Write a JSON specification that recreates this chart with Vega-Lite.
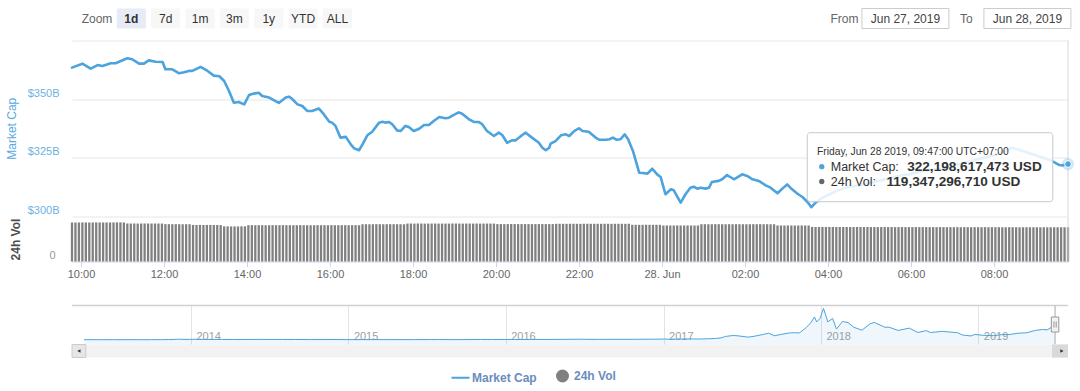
{
"$schema": "https://vega.github.io/schema/vega-lite/v6.json",
"padding": {"left": 5, "top": 7.5, "right": 5, "bottom": 5},
"background": "white",
"config": {"font": "Liberation Sans", "view": {"stroke": null}},
"spacing": 0,
"bounds": "flush",
"resolve": {"scale": {"x": "independent", "y": "independent", "color": "shared"}},
"datasets": {
"btnL": [{"b":"Zoom"},{"b":"1d"},{"b":"7d"},{"b":"1m"},{"b":"3m"},{"b":"1y"},{"b":"YTD"},{"b":"ALL"}],
"btnR": [{"r":"From"},{"r":"Jun 27, 2019"},{"r":"To"},{"r":"Jun 28, 2019"}],
"main": [
{"t":"2019-06-27T09:47Z","v":363.4},{"t":"2019-06-27T10:02Z","v":365.1},{"t":"2019-06-27T10:14Z","v":363.0},{"t":"2019-06-27T10:24Z","v":364.5},{"t":"2019-06-27T10:31Z","v":364.1},{"t":"2019-06-27T10:43Z","v":365.3},{"t":"2019-06-27T10:50Z","v":365.3},{"t":"2019-06-27T11:07Z","v":367.4},{"t":"2019-06-27T11:14Z","v":367.0},{"t":"2019-06-27T11:24Z","v":365.1},{"t":"2019-06-27T11:31Z","v":365.1},{"t":"2019-06-27T11:38Z","v":366.5},{"t":"2019-06-27T11:48Z","v":365.9},{"t":"2019-06-27T11:58Z","v":365.8},{"t":"2019-06-27T12:02Z","v":362.7},{"t":"2019-06-27T12:12Z","v":362.7},{"t":"2019-06-27T12:22Z","v":361.0},{"t":"2019-06-27T12:29Z","v":361.4},{"t":"2019-06-27T12:36Z","v":362.0},{"t":"2019-06-27T12:41Z","v":362.0},{"t":"2019-06-27T12:53Z","v":363.7},{"t":"2019-06-27T13:03Z","v":362.0},{"t":"2019-06-27T13:12Z","v":360.0},{"t":"2019-06-27T13:20Z","v":359.7},{"t":"2019-06-27T13:27Z","v":357.7},{"t":"2019-06-27T13:34Z","v":353.4},{"t":"2019-06-27T13:41Z","v":348.4},{"t":"2019-06-27T13:48Z","v":348.7},{"t":"2019-06-27T13:56Z","v":347.7},{"t":"2019-06-27T14:03Z","v":351.7},{"t":"2019-06-27T14:10Z","v":352.3},{"t":"2019-06-27T14:17Z","v":352.7},{"t":"2019-06-27T14:22Z","v":351.3},{"t":"2019-06-27T14:32Z","v":350.6},{"t":"2019-06-27T14:46Z","v":348.3},{"t":"2019-06-27T14:56Z","v":350.6},{"t":"2019-06-27T15:01Z","v":351.0},{"t":"2019-06-27T15:05Z","v":350.1},{"t":"2019-06-27T15:13Z","v":347.7},{"t":"2019-06-27T15:20Z","v":347.0},{"t":"2019-06-27T15:27Z","v":344.9},{"t":"2019-06-27T15:34Z","v":344.9},{"t":"2019-06-27T15:44Z","v":345.9},{"t":"2019-06-27T15:51Z","v":343.5},{"t":"2019-06-27T15:59Z","v":340.3},{"t":"2019-06-27T16:03Z","v":339.9},{"t":"2019-06-27T16:08Z","v":338.5},{"t":"2019-06-27T16:15Z","v":333.5},{"t":"2019-06-27T16:23Z","v":333.8},{"t":"2019-06-27T16:30Z","v":330.6},{"t":"2019-06-27T16:35Z","v":328.9},{"t":"2019-06-27T16:42Z","v":328.1},{"t":"2019-06-27T16:47Z","v":330.6},{"t":"2019-06-27T16:54Z","v":334.5},{"t":"2019-06-27T17:01Z","v":336.0},{"t":"2019-06-27T17:11Z","v":339.9},{"t":"2019-06-27T17:16Z","v":340.3},{"t":"2019-06-27T17:20Z","v":339.9},{"t":"2019-06-27T17:25Z","v":340.2},{"t":"2019-06-27T17:30Z","v":339.2},{"t":"2019-06-27T17:37Z","v":336.6},{"t":"2019-06-27T17:42Z","v":336.3},{"t":"2019-06-27T17:49Z","v":338.5},{"t":"2019-06-27T17:54Z","v":338.0},{"t":"2019-06-27T18:01Z","v":336.3},{"t":"2019-06-27T18:09Z","v":337.3},{"t":"2019-06-27T18:16Z","v":338.9},{"t":"2019-06-27T18:23Z","v":338.9},{"t":"2019-06-27T18:30Z","v":340.6},{"t":"2019-06-27T18:38Z","v":342.3},{"t":"2019-06-27T18:47Z","v":341.8},{"t":"2019-06-27T18:52Z","v":342.0},{"t":"2019-06-27T18:59Z","v":343.2},{"t":"2019-06-27T19:06Z","v":344.3},{"t":"2019-06-27T19:11Z","v":343.7},{"t":"2019-06-27T19:21Z","v":341.3},{"t":"2019-06-27T19:28Z","v":340.2},{"t":"2019-06-27T19:35Z","v":340.2},{"t":"2019-06-27T19:40Z","v":339.2},{"t":"2019-06-27T19:47Z","v":336.3},{"t":"2019-06-27T19:57Z","v":334.2},{"t":"2019-06-27T20:04Z","v":335.6},{"t":"2019-06-27T20:09Z","v":334.6},{"t":"2019-06-27T20:16Z","v":331.3},{"t":"2019-06-27T20:23Z","v":332.3},{"t":"2019-06-27T20:28Z","v":332.3},{"t":"2019-06-27T20:38Z","v":334.6},{"t":"2019-06-27T20:43Z","v":335.6},{"t":"2019-06-27T20:52Z","v":333.5},{"t":"2019-06-27T21:02Z","v":331.3},{"t":"2019-06-27T21:07Z","v":329.2},{"t":"2019-06-27T21:12Z","v":328.1},{"t":"2019-06-27T21:17Z","v":329.2},{"t":"2019-06-27T21:19Z","v":330.9},{"t":"2019-06-27T21:26Z","v":332.0},{"t":"2019-06-27T21:34Z","v":334.5},{"t":"2019-06-27T21:41Z","v":334.9},{"t":"2019-06-27T21:46Z","v":334.2},{"t":"2019-06-27T21:53Z","v":336.3},{"t":"2019-06-27T22:00Z","v":337.5},{"t":"2019-06-27T22:05Z","v":336.3},{"t":"2019-06-27T22:14Z","v":336.0},{"t":"2019-06-27T22:24Z","v":333.5},{"t":"2019-06-27T22:29Z","v":332.6},{"t":"2019-06-27T22:39Z","v":332.6},{"t":"2019-06-27T22:44Z","v":332.8},{"t":"2019-06-27T22:49Z","v":333.5},{"t":"2019-06-27T22:54Z","v":332.6},{"t":"2019-06-27T23:00Z","v":332.8},{"t":"2019-06-27T23:06Z","v":334.9},{"t":"2019-06-27T23:11Z","v":332.8},{"t":"2019-06-27T23:18Z","v":327.8},{"t":"2019-06-27T23:27Z","v":318.5},{"t":"2019-06-27T23:32Z","v":318.4},{"t":"2019-06-27T23:39Z","v":318.1},{"t":"2019-06-27T23:46Z","v":320.2},{"t":"2019-06-27T23:53Z","v":317.8},{"t":"2019-06-27T23:58Z","v":316.7},
{"t":"2019-06-28T00:05Z","v":309.3},{"t":"2019-06-28T00:13Z","v":311.4},{"t":"2019-06-28T00:17Z","v":311.0},{"t":"2019-06-28T00:27Z","v":305.7},{"t":"2019-06-28T00:34Z","v":309.3},{"t":"2019-06-28T00:41Z","v":312.1},{"t":"2019-06-28T00:46Z","v":312.5},{"t":"2019-06-28T00:51Z","v":311.7},{"t":"2019-06-28T00:56Z","v":312.1},{"t":"2019-06-28T01:03Z","v":311.7},{"t":"2019-06-28T01:08Z","v":312.1},{"t":"2019-06-28T01:12Z","v":314.5},{"t":"2019-06-28T01:22Z","v":315.0},{"t":"2019-06-28T01:27Z","v":315.7},{"t":"2019-06-28T01:34Z","v":317.5},{"t":"2019-06-28T01:44Z","v":315.7},{"t":"2019-06-28T01:56Z","v":317.8},{"t":"2019-06-28T02:03Z","v":317.1},{"t":"2019-06-28T02:11Z","v":315.7},{"t":"2019-06-28T02:20Z","v":315.0},{"t":"2019-06-28T02:30Z","v":313.1},{"t":"2019-06-28T02:37Z","v":312.1},{"t":"2019-06-28T02:47Z","v":309.7},{"t":"2019-06-28T02:54Z","v":311.7},{"t":"2019-06-28T03:01Z","v":313.5},{"t":"2019-06-28T03:08Z","v":311.4},{"t":"2019-06-28T03:16Z","v":309.5},{"t":"2019-06-28T03:23Z","v":308.1},{"t":"2019-06-28T03:30Z","v":306.1},{"t":"2019-06-28T03:36Z","v":303.8},{"t":"2019-06-28T03:42Z","v":305.7},{"t":"2019-06-28T03:52Z","v":307.8},{"t":"2019-06-28T04:00Z","v":309.0},{"t":"2019-06-28T04:15Z","v":311.0},{"t":"2019-06-28T04:30Z","v":312.5},{"t":"2019-06-28T04:45Z","v":313.0},{"t":"2019-06-28T05:00Z","v":314.0},{"t":"2019-06-28T05:20Z","v":315.5},{"t":"2019-06-28T05:40Z","v":317.0},{"t":"2019-06-28T06:00Z","v":318.0},{"t":"2019-06-28T06:20Z","v":319.5},{"t":"2019-06-28T06:40Z","v":320.0},{"t":"2019-06-28T07:00Z","v":321.5},{"t":"2019-06-28T07:20Z","v":323.0},{"t":"2019-06-28T07:40Z","v":324.5},{"t":"2019-06-28T08:00Z","v":326.0},{"t":"2019-06-28T08:15Z","v":327.5},{"t":"2019-06-28T08:26Z","v":329.2},{"t":"2019-06-28T08:45Z","v":327.5},{"t":"2019-06-28T09:00Z","v":326.0},{"t":"2019-06-28T09:15Z","v":324.5},{"t":"2019-06-28T09:24Z","v":323.5},{"t":"2019-06-28T09:34Z","v":321.8},{"t":"2019-06-28T09:40Z","v":321.6},{"t":"2019-06-28T09:45Z","v":322.4},{"t":"2019-06-28T09:47Z","v":322.2}
],
"vol": [
{"t":"2019-06-27T09:47Z","v":136.2},{"t":"2019-06-27T09:52Z","v":136.0},{"t":"2019-06-27T09:57Z","v":136.1},
{"t":"2019-06-27T10:02Z","v":136.3},{"t":"2019-06-27T10:07Z","v":136.2},{"t":"2019-06-27T10:12Z","v":136.0},{"t":"2019-06-27T10:17Z","v":136.1},{"t":"2019-06-27T10:22Z","v":136.2},{"t":"2019-06-27T10:27Z","v":136.3},{"t":"2019-06-27T10:32Z","v":136.4},{"t":"2019-06-27T10:37Z","v":136.2},{"t":"2019-06-27T10:42Z","v":136.1},{"t":"2019-06-27T10:47Z","v":136.3},{"t":"2019-06-27T10:52Z","v":136.5},{"t":"2019-06-27T10:57Z","v":136.4},
{"t":"2019-06-27T11:02Z","v":136.2},{"t":"2019-06-27T11:07Z","v":132.6},{"t":"2019-06-27T11:12Z","v":132.5},{"t":"2019-06-27T11:17Z","v":132.6},{"t":"2019-06-27T11:22Z","v":132.4},{"t":"2019-06-27T11:27Z","v":132.5},{"t":"2019-06-27T11:32Z","v":132.6},{"t":"2019-06-27T11:37Z","v":132.5},{"t":"2019-06-27T11:42Z","v":132.4},{"t":"2019-06-27T11:47Z","v":132.6},{"t":"2019-06-27T11:52Z","v":132.5},{"t":"2019-06-27T11:57Z","v":132.4},
{"t":"2019-06-27T12:02Z","v":130.4},{"t":"2019-06-27T12:07Z","v":130.2},{"t":"2019-06-27T12:12Z","v":130.1},{"t":"2019-06-27T12:17Z","v":130.3},{"t":"2019-06-27T12:22Z","v":130.0},{"t":"2019-06-27T12:27Z","v":129.9},{"t":"2019-06-27T12:32Z","v":130.1},{"t":"2019-06-27T12:37Z","v":130.0},{"t":"2019-06-27T12:42Z","v":127.6},{"t":"2019-06-27T12:47Z","v":127.5},{"t":"2019-06-27T12:52Z","v":127.7},{"t":"2019-06-27T12:57Z","v":127.4},
{"t":"2019-06-27T13:02Z","v":127.5},{"t":"2019-06-27T13:07Z","v":127.6},{"t":"2019-06-27T13:12Z","v":127.3},{"t":"2019-06-27T13:17Z","v":127.4},{"t":"2019-06-27T13:22Z","v":127.2},{"t":"2019-06-27T13:27Z","v":122.8},{"t":"2019-06-27T13:32Z","v":122.6},{"t":"2019-06-27T13:37Z","v":122.4},{"t":"2019-06-27T13:42Z","v":122.5},{"t":"2019-06-27T13:47Z","v":122.3},{"t":"2019-06-27T13:52Z","v":122.6},{"t":"2019-06-27T13:57Z","v":122.7},
{"t":"2019-06-27T14:02Z","v":126.6},{"t":"2019-06-27T14:07Z","v":126.8},{"t":"2019-06-27T14:12Z","v":126.7},{"t":"2019-06-27T14:17Z","v":126.9},{"t":"2019-06-27T14:22Z","v":126.6},{"t":"2019-06-27T14:27Z","v":126.5},{"t":"2019-06-27T14:32Z","v":126.7},{"t":"2019-06-27T14:37Z","v":126.8},{"t":"2019-06-27T14:42Z","v":126.6},{"t":"2019-06-27T14:47Z","v":126.7},{"t":"2019-06-27T14:52Z","v":126.9},{"t":"2019-06-27T14:57Z","v":126.8},
{"t":"2019-06-27T15:02Z","v":126.7},{"t":"2019-06-27T15:07Z","v":126.6},{"t":"2019-06-27T15:12Z","v":126.8},{"t":"2019-06-27T15:17Z","v":126.9},{"t":"2019-06-27T15:22Z","v":126.7},{"t":"2019-06-27T15:27Z","v":126.6},{"t":"2019-06-27T15:32Z","v":126.5},{"t":"2019-06-27T15:37Z","v":126.7},{"t":"2019-06-27T15:42Z","v":126.8},{"t":"2019-06-27T15:47Z","v":126.6},{"t":"2019-06-27T15:52Z","v":126.7},{"t":"2019-06-27T15:57Z","v":126.8},
{"t":"2019-06-27T16:02Z","v":126.9},{"t":"2019-06-27T16:07Z","v":126.7},{"t":"2019-06-27T16:12Z","v":126.6},{"t":"2019-06-27T16:17Z","v":126.8},{"t":"2019-06-27T16:22Z","v":126.7},{"t":"2019-06-27T16:27Z","v":126.6},{"t":"2019-06-27T16:32Z","v":126.8},{"t":"2019-06-27T16:37Z","v":126.9},{"t":"2019-06-27T16:42Z","v":126.7},{"t":"2019-06-27T16:47Z","v":130.0},{"t":"2019-06-27T16:52Z","v":130.1},{"t":"2019-06-27T16:57Z","v":129.9},
{"t":"2019-06-27T17:02Z","v":130.0},{"t":"2019-06-27T17:07Z","v":130.2},{"t":"2019-06-27T17:12Z","v":130.1},{"t":"2019-06-27T17:17Z","v":129.9},{"t":"2019-06-27T17:22Z","v":130.0},{"t":"2019-06-27T17:27Z","v":130.1},{"t":"2019-06-27T17:32Z","v":130.2},{"t":"2019-06-27T17:37Z","v":130.0},{"t":"2019-06-27T17:42Z","v":130.1},{"t":"2019-06-27T17:47Z","v":129.9},{"t":"2019-06-27T17:52Z","v":132.3},{"t":"2019-06-27T17:57Z","v":132.4},
{"t":"2019-06-27T18:02Z","v":132.3},{"t":"2019-06-27T18:07Z","v":132.5},{"t":"2019-06-27T18:12Z","v":132.4},{"t":"2019-06-27T18:17Z","v":132.2},{"t":"2019-06-27T18:22Z","v":132.3},{"t":"2019-06-27T18:27Z","v":132.4},{"t":"2019-06-27T18:32Z","v":132.5},{"t":"2019-06-27T18:37Z","v":132.3},{"t":"2019-06-27T18:42Z","v":132.2},{"t":"2019-06-27T18:47Z","v":132.4},{"t":"2019-06-27T18:52Z","v":132.3},{"t":"2019-06-27T18:57Z","v":132.5},
{"t":"2019-06-27T19:02Z","v":132.4},{"t":"2019-06-27T19:07Z","v":132.3},{"t":"2019-06-27T19:12Z","v":132.2},{"t":"2019-06-27T19:17Z","v":132.4},{"t":"2019-06-27T19:22Z","v":132.5},{"t":"2019-06-27T19:27Z","v":132.3},{"t":"2019-06-27T19:32Z","v":132.4},{"t":"2019-06-27T19:37Z","v":132.2},{"t":"2019-06-27T19:42Z","v":132.3},{"t":"2019-06-27T19:47Z","v":132.4},{"t":"2019-06-27T19:52Z","v":132.3},{"t":"2019-06-27T19:57Z","v":132.2},
{"t":"2019-06-27T20:02Z","v":130.5},{"t":"2019-06-27T20:07Z","v":130.6},{"t":"2019-06-27T20:12Z","v":130.4},{"t":"2019-06-27T20:17Z","v":130.5},{"t":"2019-06-27T20:22Z","v":130.7},{"t":"2019-06-27T20:27Z","v":130.6},{"t":"2019-06-27T20:32Z","v":130.4},{"t":"2019-06-27T20:37Z","v":130.5},{"t":"2019-06-27T20:42Z","v":130.6},{"t":"2019-06-27T20:47Z","v":130.5},{"t":"2019-06-27T20:52Z","v":130.4},{"t":"2019-06-27T20:57Z","v":130.6},
{"t":"2019-06-27T21:02Z","v":130.5},{"t":"2019-06-27T21:07Z","v":130.6},{"t":"2019-06-27T21:12Z","v":130.4},{"t":"2019-06-27T21:17Z","v":130.5},{"t":"2019-06-27T21:22Z","v":130.6},{"t":"2019-06-27T21:27Z","v":131.5},{"t":"2019-06-27T21:32Z","v":131.6},{"t":"2019-06-27T21:37Z","v":131.4},{"t":"2019-06-27T21:42Z","v":131.5},{"t":"2019-06-27T21:47Z","v":131.7},{"t":"2019-06-27T21:52Z","v":131.6},{"t":"2019-06-27T21:57Z","v":131.5},
{"t":"2019-06-27T22:02Z","v":131.4},{"t":"2019-06-27T22:07Z","v":131.5},{"t":"2019-06-27T22:12Z","v":131.6},{"t":"2019-06-27T22:17Z","v":131.5},{"t":"2019-06-27T22:22Z","v":131.4},{"t":"2019-06-27T22:27Z","v":131.6},{"t":"2019-06-27T22:32Z","v":131.5},{"t":"2019-06-27T22:37Z","v":131.7},{"t":"2019-06-27T22:42Z","v":131.5},{"t":"2019-06-27T22:47Z","v":131.4},{"t":"2019-06-27T22:52Z","v":131.6},{"t":"2019-06-27T22:57Z","v":131.5},
{"t":"2019-06-27T23:02Z","v":131.5},{"t":"2019-06-27T23:07Z","v":131.4},{"t":"2019-06-27T23:12Z","v":131.6},{"t":"2019-06-27T23:17Z","v":128.0},{"t":"2019-06-27T23:22Z","v":128.1},{"t":"2019-06-27T23:27Z","v":127.9},{"t":"2019-06-27T23:32Z","v":128.0},{"t":"2019-06-27T23:37Z","v":128.2},{"t":"2019-06-27T23:42Z","v":128.0},{"t":"2019-06-27T23:47Z","v":127.9},{"t":"2019-06-27T23:52Z","v":128.1},{"t":"2019-06-27T23:57Z","v":128.0},
{"t":"2019-06-28T00:02Z","v":125.6},{"t":"2019-06-28T00:07Z","v":125.7},{"t":"2019-06-28T00:12Z","v":125.5},{"t":"2019-06-28T00:17Z","v":125.6},{"t":"2019-06-28T00:22Z","v":125.8},{"t":"2019-06-28T00:27Z","v":125.6},{"t":"2019-06-28T00:32Z","v":125.5},{"t":"2019-06-28T00:37Z","v":125.7},{"t":"2019-06-28T00:42Z","v":125.6},{"t":"2019-06-28T00:47Z","v":125.5},{"t":"2019-06-28T00:52Z","v":125.6},{"t":"2019-06-28T00:57Z","v":130.0},
{"t":"2019-06-28T01:02Z","v":130.1},{"t":"2019-06-28T01:07Z","v":129.9},{"t":"2019-06-28T01:12Z","v":130.0},{"t":"2019-06-28T01:17Z","v":130.2},{"t":"2019-06-28T01:22Z","v":130.1},{"t":"2019-06-28T01:27Z","v":130.0},{"t":"2019-06-28T01:32Z","v":129.9},{"t":"2019-06-28T01:37Z","v":130.1},{"t":"2019-06-28T01:42Z","v":130.0},{"t":"2019-06-28T01:47Z","v":130.2},{"t":"2019-06-28T01:52Z","v":130.1},{"t":"2019-06-28T01:57Z","v":130.0},
{"t":"2019-06-28T02:02Z","v":129.9},{"t":"2019-06-28T02:07Z","v":130.0},{"t":"2019-06-28T02:12Z","v":130.1},{"t":"2019-06-28T02:17Z","v":130.0},{"t":"2019-06-28T02:22Z","v":130.2},{"t":"2019-06-28T02:27Z","v":130.1},{"t":"2019-06-28T02:32Z","v":130.0},{"t":"2019-06-28T02:37Z","v":129.9},{"t":"2019-06-28T02:42Z","v":130.0},{"t":"2019-06-28T02:47Z","v":125.6},{"t":"2019-06-28T02:52Z","v":125.7},{"t":"2019-06-28T02:57Z","v":125.5},
{"t":"2019-06-28T03:02Z","v":125.6},{"t":"2019-06-28T03:07Z","v":125.7},{"t":"2019-06-28T03:12Z","v":125.5},{"t":"2019-06-28T03:17Z","v":125.6},{"t":"2019-06-28T03:22Z","v":125.7},{"t":"2019-06-28T03:27Z","v":125.6},{"t":"2019-06-28T03:32Z","v":125.5},{"t":"2019-06-28T03:37Z","v":120.6},{"t":"2019-06-28T03:42Z","v":120.5},{"t":"2019-06-28T03:47Z","v":120.4},{"t":"2019-06-28T03:52Z","v":120.6},{"t":"2019-06-28T03:57Z","v":120.5},
{"t":"2019-06-28T04:02Z","v":120.4},{"t":"2019-06-28T04:07Z","v":120.5},{"t":"2019-06-28T04:12Z","v":120.3},{"t":"2019-06-28T04:17Z","v":120.4},{"t":"2019-06-28T04:22Z","v":120.5},{"t":"2019-06-28T04:27Z","v":120.3},{"t":"2019-06-28T04:32Z","v":120.4},{"t":"2019-06-28T04:37Z","v":120.2},{"t":"2019-06-28T04:42Z","v":120.3},{"t":"2019-06-28T04:47Z","v":120.4},{"t":"2019-06-28T04:52Z","v":120.2},{"t":"2019-06-28T04:57Z","v":120.3},
{"t":"2019-06-28T05:02Z","v":120.2},{"t":"2019-06-28T05:07Z","v":120.3},{"t":"2019-06-28T05:12Z","v":120.1},{"t":"2019-06-28T05:17Z","v":120.2},{"t":"2019-06-28T05:22Z","v":120.3},{"t":"2019-06-28T05:27Z","v":120.1},{"t":"2019-06-28T05:32Z","v":120.2},{"t":"2019-06-28T05:37Z","v":120.0},{"t":"2019-06-28T05:42Z","v":120.1},{"t":"2019-06-28T05:47Z","v":120.2},{"t":"2019-06-28T05:52Z","v":120.0},{"t":"2019-06-28T05:57Z","v":120.1},
{"t":"2019-06-28T06:02Z","v":120.0},{"t":"2019-06-28T06:07Z","v":120.1},{"t":"2019-06-28T06:12Z","v":119.9},{"t":"2019-06-28T06:17Z","v":120.0},{"t":"2019-06-28T06:22Z","v":120.1},{"t":"2019-06-28T06:27Z","v":119.9},{"t":"2019-06-28T06:32Z","v":120.0},{"t":"2019-06-28T06:37Z","v":119.8},{"t":"2019-06-28T06:42Z","v":119.9},{"t":"2019-06-28T06:47Z","v":120.0},{"t":"2019-06-28T06:52Z","v":119.8},{"t":"2019-06-28T06:57Z","v":119.9},
{"t":"2019-06-28T07:02Z","v":119.8},{"t":"2019-06-28T07:07Z","v":119.9},{"t":"2019-06-28T07:12Z","v":119.7},{"t":"2019-06-28T07:17Z","v":119.8},{"t":"2019-06-28T07:22Z","v":119.9},{"t":"2019-06-28T07:27Z","v":119.7},{"t":"2019-06-28T07:32Z","v":119.8},{"t":"2019-06-28T07:37Z","v":119.6},{"t":"2019-06-28T07:42Z","v":119.7},{"t":"2019-06-28T07:47Z","v":119.8},{"t":"2019-06-28T07:52Z","v":119.6},{"t":"2019-06-28T07:57Z","v":119.7},
{"t":"2019-06-28T08:02Z","v":119.6},{"t":"2019-06-28T08:07Z","v":119.7},{"t":"2019-06-28T08:12Z","v":119.5},{"t":"2019-06-28T08:17Z","v":119.6},{"t":"2019-06-28T08:22Z","v":119.7},{"t":"2019-06-28T08:27Z","v":119.5},{"t":"2019-06-28T08:32Z","v":119.6},{"t":"2019-06-28T08:37Z","v":119.4},{"t":"2019-06-28T08:42Z","v":119.5},{"t":"2019-06-28T08:47Z","v":119.6},{"t":"2019-06-28T08:52Z","v":119.4},{"t":"2019-06-28T08:57Z","v":119.5},
{"t":"2019-06-28T09:02Z","v":119.5},{"t":"2019-06-28T09:07Z","v":119.4},{"t":"2019-06-28T09:12Z","v":119.5},{"t":"2019-06-28T09:17Z","v":119.3},{"t":"2019-06-28T09:22Z","v":119.4},{"t":"2019-06-28T09:27Z","v":119.5},{"t":"2019-06-28T09:32Z","v":119.3},{"t":"2019-06-28T09:37Z","v":119.4},{"t":"2019-06-28T09:42Z","v":119.4},{"t":"2019-06-28T09:47Z","v":119.35}
],
"nav": [
{"t":"2013-04-28","v":1.6},{"t":"2013-06-01","v":1.4},{"t":"2013-07-05","v":0.9},{"t":"2013-08-01","v":1.3},{"t":"2013-09-01","v":1.6},{"t":"2013-10-01","v":1.7},{"t":"2013-10-25","v":2.6},{"t":"2013-11-10","v":4.5},{"t":"2013-11-20","v":8},{"t":"2013-12-04","v":15},{"t":"2013-12-18","v":7.5},{"t":"2013-12-28","v":10},
{"t":"2014-01-06","v":12},{"t":"2014-02-01","v":10},{"t":"2014-02-25","v":6.5},{"t":"2014-03-15","v":8},{"t":"2014-04-10","v":5.5},{"t":"2014-05-01","v":6.5},{"t":"2014-06-03","v":9},{"t":"2014-07-01","v":8},{"t":"2014-08-01","v":7.5},{"t":"2014-09-01","v":6.5},{"t":"2014-10-05","v":4.6},{"t":"2014-11-01","v":4.8},{"t":"2014-12-01","v":5.2},
{"t":"2015-01-14","v":2.8},{"t":"2015-02-01","v":3.3},{"t":"2015-03-01","v":3.8},{"t":"2015-04-01","v":3.5},{"t":"2015-05-01","v":3.4},{"t":"2015-06-01","v":3.4},{"t":"2015-07-10","v":4.4},{"t":"2015-08-01","v":4.3},{"t":"2015-09-01","v":3.8},{"t":"2015-10-01","v":3.9},{"t":"2015-11-04","v":7.3},{"t":"2015-12-01","v":6.3},
{"t":"2016-01-01","v":7.1},{"t":"2016-02-01","v":6.8},{"t":"2016-03-01","v":8.8},{"t":"2016-04-01","v":8.0},{"t":"2016-05-01","v":8.5},{"t":"2016-06-17","v":13.5},{"t":"2016-07-01","v":11.8},{"t":"2016-08-03","v":9.5},{"t":"2016-09-01","v":10.8},{"t":"2016-10-01","v":11.2},{"t":"2016-11-01","v":12.5},{"t":"2016-12-01","v":13.8},
{"t":"2017-01-04","v":18.5},{"t":"2017-01-12","v":14.5},{"t":"2017-02-01","v":16.5},{"t":"2017-03-03","v":22},{"t":"2017-03-25","v":19},{"t":"2017-04-15","v":25},{"t":"2017-05-01","v":33},{"t":"2017-05-15","v":50},{"t":"2017-05-25","v":88},{"t":"2017-06-12","v":112},{"t":"2017-06-25","v":100},{"t":"2017-07-16","v":68},{"t":"2017-08-01","v":95},{"t":"2017-08-20","v":140},{"t":"2017-09-02","v":172},{"t":"2017-09-15","v":105},{"t":"2017-10-01","v":140},{"t":"2017-10-20","v":180},{"t":"2017-11-01","v":185},{"t":"2017-11-12","v":180},{"t":"2017-11-28","v":320},{"t":"2017-12-08","v":440},{"t":"2017-12-17","v":600},{"t":"2017-12-22","v":470},{"t":"2017-12-30","v":560},
{"t":"2018-01-07","v":825},{"t":"2018-01-17","v":470},{"t":"2018-01-28","v":560},{"t":"2018-02-06","v":280},{"t":"2018-02-20","v":480},{"t":"2018-03-05","v":450},{"t":"2018-03-18","v":330},{"t":"2018-04-06","v":250},{"t":"2018-04-25","v":420},{"t":"2018-05-05","v":455},{"t":"2018-05-29","v":330},{"t":"2018-06-08","v":330},{"t":"2018-06-29","v":245},{"t":"2018-07-25","v":305},{"t":"2018-08-14","v":190},{"t":"2018-09-02","v":240},{"t":"2018-09-12","v":190},{"t":"2018-10-10","v":220},{"t":"2018-10-25","v":205},{"t":"2018-11-14","v":185},{"t":"2018-11-25","v":125},{"t":"2018-12-15","v":100},{"t":"2018-12-24","v":140},
{"t":"2019-01-10","v":118},{"t":"2019-02-07","v":107},{"t":"2019-02-24","v":135},{"t":"2019-03-15","v":138},{"t":"2019-04-03","v":172},{"t":"2019-04-23","v":183},{"t":"2019-05-13","v":245},{"t":"2019-05-30","v":270},{"t":"2019-06-10","v":260},{"t":"2019-06-26","v":375},{"t":"2019-06-28","v":322}
]
},
"vconcat": [
{
 "width": 996, "height": 20,
 "resolve": {"scale": {"x": "independent"}},
 "layer": [
  {"data": {"name": "btnL"}, "transform": [{"filter": "datum.b !== 'Zoom'"}],
   "mark": {"type": "bar", "width": 29},
   "encoding": {
    "x": {"field": "b", "type": "nominal", "scale": {"type": "band", "domain": ["Zoom","1d","7d","1m","3m","1y","YTD","ALL","f01","f02","f03","f04","f05","f06","f07","f08","f09","f10","f11","f12","f13","f14","f15","f16","f17","f18","f19","f20"], "paddingInner": 0, "paddingOuter": 0.5, "align": 0.228}, "axis": null},
    "fill": {"condition": {"test": "datum.b === '1d'", "value": "#e6ebf5"}, "value": "#f7f7f7"}}},
  {"data": {"name": "btnL"}, "transform": [{"filter": "datum.b !== '1d'"}],
   "mark": {"type": "text", "fontSize": 12},
   "encoding": {
    "x": {"field": "b", "type": "nominal", "bandPosition": 0.5, "scale": {"type": "band", "domain": ["Zoom","1d","7d","1m","3m","1y","YTD","ALL","f01","f02","f03","f04","f05","f06","f07","f08","f09","f10","f11","f12","f13","f14","f15","f16","f17","f18","f19","f20"], "paddingInner": 0, "paddingOuter": 0.5, "align": 0.228}, "axis": null},
    "text": {"field": "b"},
    "fill": {"condition": {"test": "datum.b === 'Zoom'", "value": "#666666"}, "value": "#333333"}}},
  {"data": {"name": "btnL"}, "transform": [{"filter": "datum.b === '1d'"}],
   "mark": {"type": "text", "fontSize": 12, "fontWeight": "bold", "fill": "#333333"},
   "encoding": {
    "x": {"field": "b", "type": "nominal", "bandPosition": 0.5, "scale": {"type": "band", "domain": ["Zoom","1d","7d","1m","3m","1y","YTD","ALL","f01","f02","f03","f04","f05","f06","f07","f08","f09","f10","f11","f12","f13","f14","f15","f16","f17","f18","f19","f20"], "paddingInner": 0, "paddingOuter": 0.5, "align": 0.228}, "axis": null},
    "text": {"field": "b"}}},
  {"data": {"name": "btnR"}, "transform": [{"filter": "datum.r !== 'From' && datum.r !== 'To'"}],
   "mark": {"type": "bar", "width": 87, "fill": "white", "stroke": "#cccccc", "strokeWidth": 1},
   "encoding": {
    "x": {"field": "r", "type": "nominal", "scale": {"type": "band", "domain": ["g01","g02","g03","g04","g05","g06","g07","g08","g09","g10","g11","From","Jun 27, 2019","To","Jun 28, 2019"], "paddingInner": 0, "paddingOuter": 0.665, "align": 0.8755}, "axis": null}}},
  {"data": {"name": "btnR"},
   "mark": {"type": "text", "fontSize": 12},
   "encoding": {
    "x": {"field": "r", "type": "nominal", "bandPosition": 0.5, "scale": {"type": "band", "domain": ["g01","g02","g03","g04","g05","g06","g07","g08","g09","g10","g11","From","Jun 27, 2019","To","Jun 28, 2019"], "paddingInner": 0, "paddingOuter": 0.665, "align": 0.8755}, "axis": null},
    "text": {"field": "r"},
    "fill": {"condition": {"test": "datum.r === 'From' || datum.r === 'To'", "value": "#666666"}, "value": "#444444"}}}
 ]
},
{"width": 996, "height": 12, "data": {"values": [{"s": 1}]}, "mark": {"type": "point", "opacity": 0}, "encoding": {}},
{
 "width": 996, "height": 175.5,
 "layer": [
  {"data": {"name": "main"},
   "mark": {"type": "line", "strokeWidth": 2.6, "strokeJoin": "round", "strokeCap": "round"},
   "encoding": {
    "x": {"field": "t", "type": "temporal", "scale": {"type": "utc", "domain": [{"year":2019,"month":6,"date":27,"hours":9,"minutes":47,"utc":true},{"year":2019,"month":6,"date":28,"hours":9,"minutes":47,"utc":true}]}, "axis": null},
    "y": {"field": "v", "type": "quantitative", "scale": {"domain": [300, 375], "nice": false, "zero": false},
     "axis": {"values": [300, 325, 350, 375], "title": "Market Cap", "labelExpr": "datum.value >= 375 ? '' : '$' + datum.value + 'B'", "grid": true, "gridColor": "#e6e6e6", "domain": false, "ticks": false, "labelColor": "#6cb2e3", "labelFontSize": 11, "labelPadding": 13, "labelBaseline": "alphabetic", "labelOffset": -3, "titleColor": "#5ba9df", "titleFontSize": 12, "titleFontWeight": "normal", "titlePadding": 9}},
    "color": {"datum": "Market Cap", "type": "nominal", "scale": {"domain": ["Market Cap", "24h Vol"], "range": ["#4ca3dd", "#808080"]},
     "legend": {"orient": "none", "legendX": 382, "legendY": 361, "direction": "horizontal", "title": null, "labelFontSize": 12, "labelFontWeight": "bold", "labelColor": "#6b8cbe", "columnPadding": 16, "labelOffset": 5, "symbolSize": 324,
      "encode": {"symbols": {"update": {
        "shape": {"signal": "datum.value === 'Market Cap' ? 'stroke' : 'circle'"},
        "fill": {"signal": "datum.value === 'Market Cap' ? 'transparent' : '#666666'"},
        "stroke": {"signal": "datum.value === 'Market Cap' ? '#4ca3dd' : 'transparent'"},
        "size": {"signal": "datum.value === 'Market Cap' ? 324 : 120"},
        "strokeWidth": {"value": 2}}}}}}}},
  {"data": {"values": [{"s": 1}]},
   "mark": {"type": "rule", "color": "#d8d8d8", "strokeWidth": 1},
   "encoding": {"x": {"datum": {"year":2019,"month":6,"date":28,"hours":9,"minutes":47,"utc":true}, "type": "temporal"}}},
  {"data": {"name": "main"}, "transform": [{"filter": "datum.v === 322.2"}],
   "mark": {"type": "point", "filled": true, "size": 150, "opacity": 0.25, "color": "#4ca3dd"},
   "encoding": {"x": {"field": "t", "type": "temporal"}, "y": {"field": "v", "type": "quantitative"}}},
  {"data": {"name": "main"}, "transform": [{"filter": "datum.v === 322.2"}],
   "mark": {"type": "point", "filled": true, "size": 45, "opacity": 1, "fill": "#4ca3dd", "stroke": "white", "strokeWidth": 1},
   "encoding": {"x": {"field": "t", "type": "temporal"}, "y": {"field": "v", "type": "quantitative"}}},
  {"data": {"values": [{"s": 1}]},
   "mark": {"type": "rect", "fill": "white", "fillOpacity": 0.85, "stroke": "#c8c8c8", "strokeWidth": 1, "cornerRadius": 3},
   "encoding": {
    "x": {"datum": {"year":2019,"month":6,"date":28,"hours":3,"minutes":30,"utc":true}, "type": "temporal"},
    "x2": {"datum": {"year":2019,"month":6,"date":28,"hours":9,"minutes":25,"utc":true}},
    "y": {"datum": 335.6, "type": "quantitative"},
    "y2": {"datum": 306.1}}},
  {"data": {"values": [{"s": 1}]},
   "mark": {"type": "text", "align": "left", "baseline": "middle", "fontSize": 10.3, "fill": "#333333", "text": "Friday, Jun 28 2019, 09:47:00 UTC+07:00"},
   "encoding": {"x": {"datum": {"year":2019,"month":6,"date":28,"hours":3,"minutes":44,"utc":true}, "type": "temporal"}, "y": {"datum": 327.35, "type": "quantitative"}}},
  {"data": {"values": [{"s": 1}]},
   "mark": {"type": "point", "filled": true, "size": 28, "opacity": 1, "color": "#4ca3dd"},
   "encoding": {"x": {"datum": {"year":2019,"month":6,"date":28,"hours":3,"minutes":51,"utc":true}, "type": "temporal"}, "y": {"datum": 321.07, "type": "quantitative"}}},
  {"data": {"values": [{"s": 1}]},
   "mark": {"type": "point", "filled": true, "size": 28, "opacity": 1, "color": "#666666"},
   "encoding": {"x": {"datum": {"year":2019,"month":6,"date":28,"hours":3,"minutes":51,"utc":true}, "type": "temporal"}, "y": {"datum": 314.74, "type": "quantitative"}}},
  {"data": {"values": [{"s": 1}]},
   "mark": {"type": "text", "align": "left", "baseline": "middle", "fontSize": 12.5, "fill": "#333333", "text": "Market Cap:"},
   "encoding": {"x": {"datum": {"year":2019,"month":6,"date":28,"hours":4,"minutes":4,"utc":true}, "type": "temporal"}, "y": {"datum": 321.07, "type": "quantitative"}}},
  {"data": {"values": [{"s": 1}]},
   "mark": {"type": "text", "align": "right", "baseline": "middle", "fontSize": 13.6, "fontWeight": "bold", "fill": "#333333", "text": "322,198,617,473 USD"},
   "encoding": {"x": {"datum": {"year":2019,"month":6,"date":28,"hours":9,"minutes":9,"utc":true}, "type": "temporal"}, "y": {"datum": 321.07, "type": "quantitative"}}},
  {"data": {"values": [{"s": 1}]},
   "mark": {"type": "text", "align": "left", "baseline": "middle", "fontSize": 12.5, "fill": "#333333", "text": "24h Vol:"},
   "encoding": {"x": {"datum": {"year":2019,"month":6,"date":28,"hours":4,"minutes":4,"utc":true}, "type": "temporal"}, "y": {"datum": 314.74, "type": "quantitative"}}},
  {"data": {"values": [{"s": 1}]},
   "mark": {"type": "text", "align": "right", "baseline": "middle", "fontSize": 13.6, "fontWeight": "bold", "fill": "#333333", "text": "119,347,296,710 USD"},
   "encoding": {"x": {"datum": {"year":2019,"month":6,"date":28,"hours":8,"minutes":38,"utc":true}, "type": "temporal"}, "y": {"datum": 314.74, "type": "quantitative"}}}
 ]
},
{
 "width": 996, "height": 45,
 "layer": [
  {"data": {"name": "vol"},
   "mark": {"type": "bar", "width": 2.3},
   "encoding": {
    "x": {"field": "t", "type": "temporal", "scale": {"type": "utc", "padding": 0, "domain": [{"year":2019,"month":6,"date":27,"hours":9,"minutes":47,"utc":true},{"year":2019,"month":6,"date":28,"hours":9,"minutes":47,"utc":true}]},
     "axis": {"values": [{"year":2019,"month":6,"date":27,"hours":10,"utc":true},{"year":2019,"month":6,"date":27,"hours":12,"utc":true},{"year":2019,"month":6,"date":27,"hours":14,"utc":true},{"year":2019,"month":6,"date":27,"hours":16,"utc":true},{"year":2019,"month":6,"date":27,"hours":18,"utc":true},{"year":2019,"month":6,"date":27,"hours":20,"utc":true},{"year":2019,"month":6,"date":27,"hours":22,"utc":true},{"year":2019,"month":6,"date":28,"hours":0,"utc":true},{"year":2019,"month":6,"date":28,"hours":2,"utc":true},{"year":2019,"month":6,"date":28,"hours":4,"utc":true},{"year":2019,"month":6,"date":28,"hours":6,"utc":true},{"year":2019,"month":6,"date":28,"hours":8,"utc":true}],
      "labelExpr": "utchours(datum.value) === 0 ? '28. Jun' : utcFormat(datum.value, '%H:%M')", "title": null, "grid": false, "domain": true, "domainColor": "#ccd6eb", "ticks": true, "tickColor": "#ccd6eb", "tickSize": 5, "labelColor": "#666666", "labelFontSize": 11, "labelPadding": 2, "labelFlush": false, "labelOverlap": false}},
    "y": {"field": "v", "type": "quantitative", "scale": {"domain": [0, 157], "nice": false},
     "axis": {"values": [0], "title": "24h Vol", "grid": false, "domain": false, "ticks": false, "labelColor": "#999999", "labelFontSize": 11, "labelPadding": 17, "labelBaseline": "alphabetic", "labelOffset": -3, "titleColor": "#4d4d4d", "titleFontSize": 12, "titleFontWeight": "bold", "titlePadding": 26}},
    "color": {"datum": "24h Vol", "type": "nominal", "scale": {"domain": ["Market Cap", "24h Vol"], "range": ["#4ca3dd", "#808080"]}}}},
  {"data": {"values": [{"s": 1}]},
   "mark": {"type": "rule", "color": "#d8d8d8", "strokeWidth": 1},
   "encoding": {"x": {"datum": {"year":2019,"month":6,"date":28,"hours":9,"minutes":47,"utc":true}, "type": "temporal"}}}
 ]
},
{"width": 996, "height": 44, "data": {"values": [{"s": 1}]}, "mark": {"type": "point", "opacity": 0}, "encoding": {}},
{
 "width": 996, "height": 39,
 "layer": [
  {"data": {"name": "nav"},
   "mark": {"type": "area", "color": "#4ca3dd", "fillOpacity": 0.09},
   "encoding": {
    "x": {"field": "t", "type": "temporal", "scale": {"type": "utc", "domain": [{"year":2013,"month":3,"date":31,"utc":true},{"year":2019,"month":7,"date":28,"utc":true}]},
     "axis": {"values": [{"year":2014,"month":1,"date":1,"utc":true},{"year":2015,"month":1,"date":1,"utc":true},{"year":2016,"month":1,"date":1,"utc":true},{"year":2017,"month":1,"date":1,"utc":true},{"year":2018,"month":1,"date":1,"utc":true},{"year":2019,"month":1,"date":1,"utc":true}],
      "labelExpr": "utcFormat(datum.value, '%Y')", "title": null, "grid": true, "gridColor": "#e3e3e3", "domain": false, "ticks": false, "tickSize": 0, "labelColor": "#a0a0a0", "labelFontSize": 11, "labelAlign": "left", "labelBaseline": "middle", "labelPadding": -8, "labelOffset": 5, "labelFlush": false, "labelOverlap": false}},
    "y": {"field": "v", "type": "quantitative", "scale": {"domain": [-125, 900], "nice": false, "zero": false}, "axis": null},
    "y2": {"datum": -125}}},
  {"data": {"name": "nav"},
   "mark": {"type": "line", "color": "#4ca3dd", "strokeWidth": 1},
   "encoding": {"x": {"field": "t", "type": "temporal"}, "y": {"field": "v", "type": "quantitative"}}},
  {"data": {"values": [{"s": 1}]},
   "mark": {"type": "rule", "color": "#d0d0d0", "strokeWidth": 1.5},
   "encoding": {"y": {"datum": 900, "type": "quantitative"}}},
  {"data": {"values": [{"s": 1}]},
   "mark": {"type": "rule", "color": "#aaaaaa", "strokeWidth": 1},
   "encoding": {"x": {"datum": {"year":2019,"month":6,"date":28,"utc":true}, "type": "temporal"}}},
  {"data": {"values": [{"s": 1}]},
   "mark": {"type": "point", "shape": "M-0.5,-1H0.5V1H-0.5ZM-0.15,-0.4V0.4M0.15,-0.4V0.4", "size": 225, "filled": false, "fill": "#f2f2f2", "fillOpacity": 1, "stroke": "#999999", "strokeWidth": 1, "opacity": 1},
   "encoding": {"x": {"datum": {"year":2019,"month":6,"date":28,"utc":true}, "type": "temporal"}, "y": {"datum": 400, "type": "quantitative"}}}
 ]
},
{
 "width": 996, "height": 13,
 "layer": [
  {"data": {"values": [{"s": 1}]},
   "mark": {"type": "rect", "fill": "#f2f2f2"},
   "encoding": {
    "x": {"datum": {"year":2013,"month":3,"date":31,"utc":true}, "type": "temporal", "scale": {"type": "utc", "domain": [{"year":2013,"month":3,"date":31,"utc":true},{"year":2019,"month":7,"date":28,"utc":true}]}, "axis": null},
    "x2": {"datum": {"year":2019,"month":7,"date":28,"utc":true}}}},
  {"data": {"values": [{"s": 1}]},
   "mark": {"type": "rect", "fill": "#e6e6e6", "stroke": "#cccccc", "strokeWidth": 1},
   "encoding": {
    "x": {"datum": {"year":2013,"month":3,"date":31,"utc":true}, "type": "temporal"},
    "x2": {"datum": {"year":2013,"month":5,"date":2,"utc":true}}}},
  {"data": {"values": [{"s": 1}]},
   "mark": {"type": "rect", "fill": "#d9d9d9"},
   "encoding": {
    "x": {"datum": {"year":2019,"month":6,"date":21,"utc":true}, "type": "temporal"},
    "x2": {"datum": {"year":2019,"month":7,"date":28,"utc":true}}}},
  {"data": {"values": [{"s": 1}]},
   "mark": {"type": "point", "shape": "triangle-left", "size": 14, "filled": true, "color": "#333333", "opacity": 1},
   "encoding": {"x": {"datum": {"year":2013,"month":4,"date":16,"utc":true}, "type": "temporal"}}},
  {"data": {"values": [{"s": 1}]},
   "mark": {"type": "point", "shape": "triangle-right", "size": 14, "filled": true, "color": "#333333", "opacity": 1},
   "encoding": {"x": {"datum": {"year":2019,"month":7,"date":14,"utc":true}, "type": "temporal"}}}
 ]
}
]
}
